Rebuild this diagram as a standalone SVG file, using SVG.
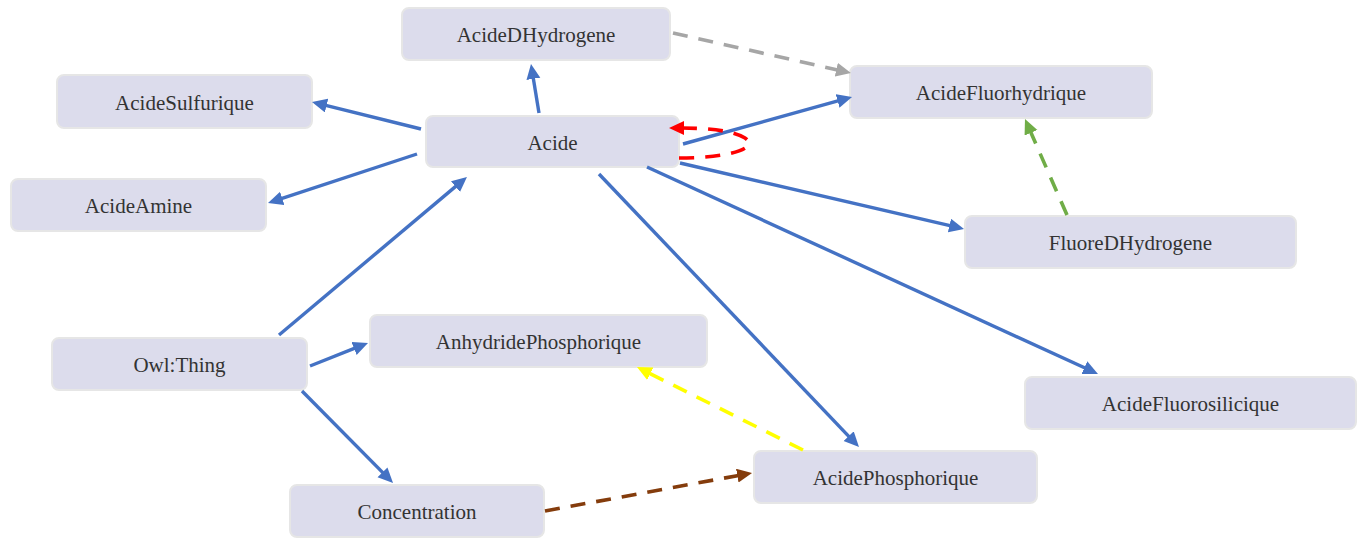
<svg xmlns="http://www.w3.org/2000/svg" width="1364" height="538" viewBox="0 0 1364 538">
<style>
.node rect{fill:#dcdcec;stroke:#e6e6e6;stroke-width:2}
.node text{font-family:"Liberation Serif","Times New Roman",serif;font-size:21px;fill:#333;text-anchor:middle}
.e{fill:none;stroke-width:3.4}
.b{stroke:#4472c4;marker-end:url(#mb)}
.d{stroke-dasharray:15 11;stroke-width:3.6}
</style>
<defs>
<marker id="mb" markerUnits="userSpaceOnUse" markerWidth="17" markerHeight="15" refX="5" refY="7" orient="auto" viewBox="0 0 17 15"><path d="M0,0 L15,7 L0,14 z" fill="#4472c4"/></marker>
<marker id="mg" markerUnits="userSpaceOnUse" markerWidth="17" markerHeight="15" refX="5" refY="7" orient="auto" viewBox="0 0 17 15"><path d="M0,0 L15,7 L0,14 z" fill="#a6a6a6"/></marker>
<marker id="mgr" markerUnits="userSpaceOnUse" markerWidth="17" markerHeight="15" refX="5" refY="7" orient="auto" viewBox="0 0 17 15"><path d="M0,0 L15,7 L0,14 z" fill="#70ad47"/></marker>
<marker id="my" markerUnits="userSpaceOnUse" markerWidth="17" markerHeight="15" refX="5" refY="7" orient="auto" viewBox="0 0 17 15"><path d="M0,0 L15,7 L0,14 z" fill="#ffff00"/></marker>
<marker id="mbr" markerUnits="userSpaceOnUse" markerWidth="17" markerHeight="15" refX="5" refY="7" orient="auto" viewBox="0 0 17 15"><path d="M0,0 L15,7 L0,14 z" fill="#843c0c"/></marker>
<marker id="mr" markerUnits="userSpaceOnUse" markerWidth="17" markerHeight="15" refX="5" refY="7" orient="auto" viewBox="0 0 17 15"><path d="M0,0 L15,7 L0,14 z" fill="#ff0000"/></marker>
</defs>
<rect width="1364" height="538" fill="#ffffff"/>
<g id="n-AcideDHydrogene" class="node"><rect x="402" y="8" width="268" height="52" rx="7"/><text x="536" y="42">AcideDHydrogene</text></g>
<g id="n-Acide" class="node"><rect x="426" y="116" width="253" height="51" rx="7"/><text x="552.5" y="150">Acide</text></g>
<g id="n-AcideSulfurique" class="node"><rect x="57" y="75" width="255" height="53" rx="7"/><text x="184.5" y="109.5">AcideSulfurique</text></g>
<g id="n-AcideAmine" class="node"><rect x="11" y="179" width="255" height="52" rx="7"/><text x="138.5" y="213">AcideAmine</text></g>
<g id="n-OwlThing" class="node"><rect x="52" y="338" width="255" height="52" rx="7"/><text x="179.5" y="372">Owl:Thing</text></g>
<g id="n-Concentration" class="node"><rect x="290" y="485" width="254" height="52" rx="7"/><text x="417" y="519">Concentration</text></g>
<g id="n-AnhydridePhosphorique" class="node"><rect x="370" y="315" width="337" height="52" rx="7"/><text x="538.5" y="349">AnhydridePhosphorique</text></g>
<g id="n-AcidePhosphorique" class="node"><rect x="754" y="451" width="283" height="52" rx="7"/><text x="895.5" y="485">AcidePhosphorique</text></g>
<g id="n-AcideFluorhydrique" class="node"><rect x="850" y="66" width="302" height="52" rx="7"/><text x="1001" y="100">AcideFluorhydrique</text></g>
<g id="n-FluoreDHydrogene" class="node"><rect x="965" y="216" width="331" height="52" rx="7"/><text x="1130.5" y="250">FluoreDHydrogene</text></g>
<g id="n-AcideFluorosilicique" class="node"><rect x="1025" y="377" width="331" height="52" rx="7"/><text x="1190.5" y="411">AcideFluorosilicique</text></g>
<g id="connectors">
<line class="e b" x1="539" y1="113" x2="532.6" y2="73.9"/>
<line class="e b" x1="421" y1="129" x2="321.7" y2="104.4"/>
<line class="e b" x1="417" y1="154" x2="277.5" y2="199.9"/>
<line class="e b" x1="279" y1="335" x2="459.3" y2="183.4"/>
<line class="e b" x1="310" y1="366" x2="358.7" y2="346.7"/>
<line class="e b" x1="302" y1="391" x2="386" y2="475.9"/>
<line class="e b" x1="683" y1="144" x2="842.4" y2="99.7"/>
<line class="e b" x1="680" y1="163" x2="954.3" y2="226.7"/>
<line class="e b" x1="647" y1="167" x2="1088.9" y2="369.8"/>
<line class="e b" x1="599" y1="174" x2="852.1" y2="439.8"/>
<line class="e d" stroke="#a6a6a6" marker-end="url(#mg)" x1="673" y1="33" x2="841.2" y2="70.8"/>
<line class="e d" stroke="#70ad47" marker-end="url(#mgr)" x1="1067" y1="215" x2="1029" y2="128.2"/>
<line class="e d" stroke="#ffff00" marker-end="url(#my)" x1="803" y1="450" x2="645.9" y2="371.5"/>
<line class="e d" stroke="#843c0c" marker-end="url(#mbr)" x1="545" y1="511" x2="742.2" y2="474.8"/>
<path class="e d" stroke="#ff0000" marker-end="url(#mr)" d="M679,158 C730,158 760,148 745,138 C732,130 705,128 679,128"/>
</g>
</svg>
